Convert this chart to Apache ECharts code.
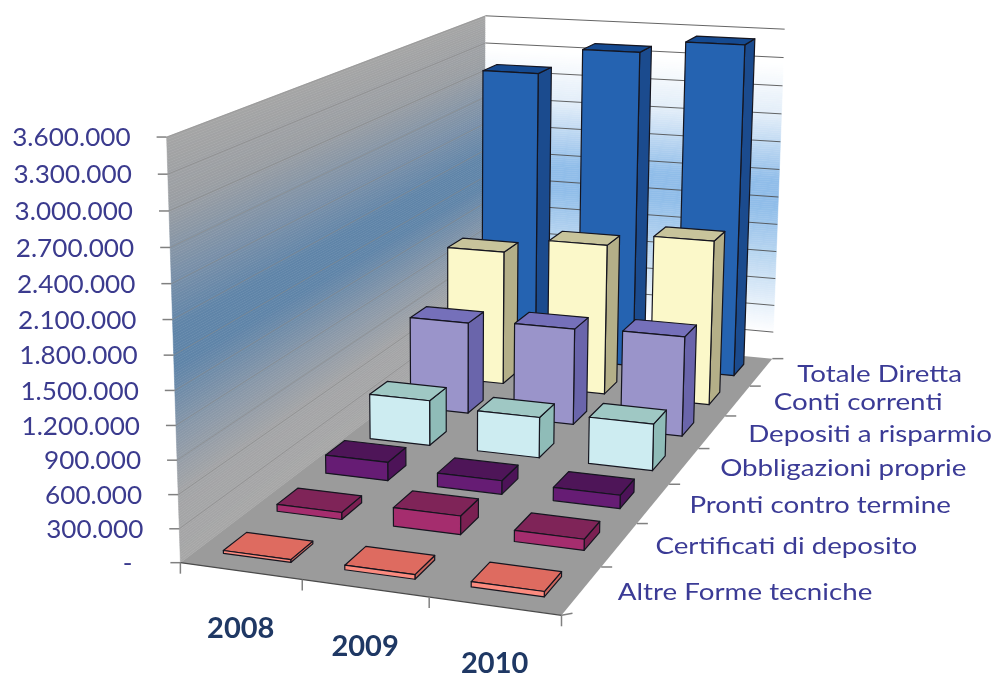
<!DOCTYPE html>
<html><head><meta charset="utf-8">
<style>html,body{margin:0;padding:0;background:#fff}#c{width:995px;height:674px}</style>
<script src="https://cdn.jsdelivr.net/npm/echarts@6/dist/echarts.min.js"></script>
</head><body><div id="c"></div>
<script>
// ---------- data ----------
var years = ['2008','2009','2010'];
var seriesNames = ['Altre Forme tecniche','Certificati di deposito','Pronti contro termine','Obbligazioni proprie','Depositi a risparmio','Conti correnti','Totale Diretta'];
var altreForme   = [25000, 40000, 45000];
var certificati  = [65000, 170000, 100000];
var pronti       = [177000, 130000, 125000];
var obbligazioni = [450000, 400000, 455000];
var depositi     = [940000, 980000, 1005000];
var contiCorrenti= [1420000, 1580000, 1710000];
var totale       = [3120000, 3400000, 3530000];
var tickValues = [0,300000,600000,900000,1200000,1500000,1800000,2100000,2400000,2700000,3000000,3300000,3600000];
var tickLabels = ['-','300.000','600.000','900.000','1.200.000','1.500.000','1.800.000','2.100.000','2.400.000','2.700.000','3.000.000','3.300.000','3.600.000'];
var rows = [altreForme, certificati, pronti, obbligazioni, depositi, contiCorrenti, totale];

// ---------- styles ----------
var FONT = 'Lato';
var rowColors = [
 {front:'#fb8b7f', side:'#c9655c', top:'#de6b60'},
 {front:'#a52d6e', side:'#7b2052', top:'#7f2458'},
 {front:'#661c74', side:'#4d1358', top:'#4e1558'},
 {front:'#cdecf1', side:'#8fbcb8', top:'#9fc8c4'},
 {front:'#9a94ca', side:'#6a65ab', top:'#7570ba'},
 {front:'#fbf8c9', side:'#b4af88', top:'#c8c49b'},
 {front:'#2563b1', side:'#1b4b8e', top:'#154a91'}
];
var BAR_HALF_U = 0.28, BAR_HALF_V = 0.21;
var LAB_SIZE=25, LAB_SCALE=1.045, LAB_SIZE_S=24, LAB_SCALE_S=1.155, YEAR_SIZE=29;

// ---------- perspective camera calibrated on the box corners ----------
var calib = [
 [0,0,0,180,563],[3,0,0,561.5,615],[3,7,0,772,359],[0,7,0,485,331],
 [0,0,1,167,137],[0,7,1,485,16],[3,7,1,785,29]
];
function solveCamera(pts){
  var n=11, A=[], b=[], i,j,k;
  for(i=0;i<n;i++){A.push(new Array(n).fill(0));b.push(0);}
  function add(r,t){for(i=0;i<n;i++){b[i]+=r[i]*t;for(j=0;j<n;j++)A[i][j]+=r[i]*r[j];}}
  pts.forEach(function(p){
    var u=p[0],v=p[1],h=p[2],x=p[3],y=p[4];
    add([u,v,h,1,0,0,0,0,-x*u,-x*v,-x*h],x);
    add([0,0,0,0,u,v,h,1,-y*u,-y*v,-y*h],y);
  });
  for(k=0;k<n;k++){
    var m=k;for(i=k+1;i<n;i++)if(Math.abs(A[i][k])>Math.abs(A[m][k]))m=i;
    var t=A[k];A[k]=A[m];A[m]=t;t=b[k];b[k]=b[m];b[m]=t;
    for(i=k+1;i<n;i++){var f=A[i][k]/A[k][k];for(j=k;j<n;j++)A[i][j]-=f*A[k][j];b[i]-=f*b[k];}
  }
  var s=new Array(n);
  for(i=n-1;i>=0;i--){var r=b[i];for(j=i+1;j<n;j++)r-=A[i][j]*s[j];s[i]=r/A[i][i];}
  return s;
}
var C = solveCamera(calib);
function project(u,v,h){
  var w=C[8]*u+C[9]*v+C[10]*h+1;
  return [(C[0]*u+C[1]*v+C[2]*h+C[3])/w,(C[4]*u+C[5]*v+C[6]*h+C[7])/w];
}

// read (year band, value) through the hidden cartesian axes
function axisPos(api,params,cat,val){
  var p=api.coord([cat,val]), g=params.coordSys;
  return {u:(p[0]-g.x)/g.width*years.length, h:1-(p[1]-g.y)/g.height};
}
function poly(points,fill,stroke,lw,z2){
  return {type:'polygon',z2:z2||0,shape:{points:points},style:{fill:fill,stroke:stroke||null,lineWidth:lw||0,lineJoin:'round'},silent:true};
}
function line(a,b,stroke,lw,z2,op){
  return {type:'line',z2:z2||0,shape:{x1:a[0],y1:a[1],x2:b[0],y2:b[1]},style:{stroke:stroke,lineWidth:lw,opacity:op==null?1:op},silent:true};
}
function text(x,y,str,size,color,align,weight,sx){
  return {type:'text',z2:50,x:x,y:y,scaleX:sx||1,style:{text:str,fontFamily:FONT,fontSize:size,fill:color,align:align,verticalAlign:'middle',fontWeight:weight||'normal'},silent:true};
}
function mix(a,b,t){
  function ch(s,i){return parseInt(s.substr(i,2),16);}
  var o=[1,3,5].map(function(i){return Math.round(ch(a,i)+(ch(b,i)-ch(a,i))*t);});
  return 'rgb('+o.join(',')+')';
}
function ramp(stops,t){
  for(var i=1;i<stops.length;i++){ if(t<=stops[i][0]){
    return mix(stops[i-1][1],stops[i][1],(t-stops[i-1][0])/(stops[i][0]-stops[i-1][0])); } }
  return stops[stops.length-1][1];
}
var leftStops=[[0,'#a6a6a6'],[0.17,'#a3a4a6'],[0.31,'#8a98a8'],[0.47,'#5f84a8'],[0.56,'#5f84a8'],[0.69,'#7a90a8'],[0.85,'#9a9ea3'],[1,'#a5a5a5']];
var backStops=[[0,'#ffffff'],[0.08,'#ffffff'],[0.17,'#e6f0fa'],[0.32,'#b9d6f0'],[0.47,'#90bde9'],[0.55,'#90bde9'],[0.74,'#e0ecf8'],[0.9,'#ffffff'],[1,'#ffffff']];

function renderBox(params,api){
  var U=years.length, V=seriesNames.length, ch=[], i, N=160;
  // walls drawn in perspective strips
  for(i=0;i<N;i++){
    var h0=i/N,h1=(i+1)/N,tm=(h0+h1)/2,c=ramp(leftStops,tm);
    ch.push(poly([project(0,0,h0),project(0,V,h0),project(0,V,h1),project(0,0,h1)],c,c,0.5,1));
    c=ramp(backStops,tm);
    ch.push(poly([project(0,V,h0),project(U,V,h0),project(U,V,h1),project(0,V,h1)],c,c,0.5,1));
  }
  // floor
  ch.push(poly([project(0,0,0),project(U,0,0),project(U,V,0),project(0,V,0)],'#9b9b9b',null,0,2));
  // gridlines and value ticks
  tickValues.forEach(function(val,k){
    var h=axisPos(api,params,0,val).h;
    var a=project(0,0,h), b=project(0,V,h), d=project(U,V,h);
    if(k>0){
      ch.push(line(a,b,'#858585',1,3,0.55));
      ch.push(line(b,d,'#4a4a4a',1,3,0.85));
    }
    ch.push(line([a[0]-10,a[1]],a,'#808080',1.5,4));
    var lx=a[0]-36-(k===0?12:0);
    ch.push(text(lx,a[1]+1,tickLabels[k],LAB_SIZE,'#3b3b8e','right','normal',LAB_SCALE));
  });
  // front edge, right edge ticks
  ch.push(line(project(0,0,0),project(U,0,0),'#4a4a4a',1.2,5));
  for(i=0;i<=U;i++){ var p=project(i,0,0); ch.push(line(p,[p[0],p[1]+11],'#808080',1.5,5)); }
  for(i=0;i<=V;i++){ var q=project(U,i,0); ch.push(line(q,[q[0]+11,q[1]-(i===0?2:0)],'#808080',1.5,5)); }
  // category labels
  years.forEach(function(y,k){
    var p=project(k+0.5,0,0);
    ch.push(text(p[0],p[1]+58,y,YEAR_SIZE,'#1f3864','center','bold'));
  });
  seriesNames.forEach(function(nm,k){
    var p=project(U,k+0.5,0);
    ch.push(text(p[0]+36,p[1]+2,nm,LAB_SIZE_S,'#3b3b96','left','normal',LAB_SCALE_S));
  });
  return {type:'group',children:ch};
}

function renderBar(row){
  return function(params,api){
    var cat=api.value(0), val=api.value(1);
    var a=axisPos(api,params,cat,val), uc=a.u, h=a.h;
    var u0=uc-BAR_HALF_U,u1=uc+BAR_HALF_U,v0=row+0.5-BAR_HALF_V,v1=row+0.5+BAR_HALF_V;
    var col=rowColors[row], e='#15151f', w=1.2;
    return {type:'group',children:[
      poly([project(u1,v0,0),project(u1,v1,0),project(u1,v1,h),project(u1,v0,h)],col.side,e,w,1),
      poly([project(u0,v0,h),project(u1,v0,h),project(u1,v1,h),project(u0,v1,h)],col.top,e,w,2),
      poly([project(u0,v0,0),project(u1,v0,0),project(u1,v0,h),project(u0,v0,h)],col.front,e,w,3)
    ]};
  };
}

var series=[{type:'custom',name:'box',coordinateSystem:'cartesian2d',clip:false,z:1,silent:true,
  renderItem:renderBox,data:[[0,0]],animation:false}];
for(var r=rows.length-1;r>=0;r--){
  series.push({type:'custom',name:seriesNames[r],coordinateSystem:'cartesian2d',clip:false,silent:true,
    z:2+(rows.length-r),animation:false,renderItem:renderBar(r),
    data:rows[r].map(function(v,i){return [i,v];})});
}
var chart=echarts.init(document.getElementById('c'),null,{renderer:'canvas'});
chart.setOption({
  animation:false,backgroundColor:'#ffffff',
  grid:{left:100,right:100,top:100,bottom:100},
  xAxis:{type:'category',data:years,show:false},
  yAxis:{type:'value',min:0,max:3600000,interval:300000,show:false},
  series:series
});
</script></body></html>
